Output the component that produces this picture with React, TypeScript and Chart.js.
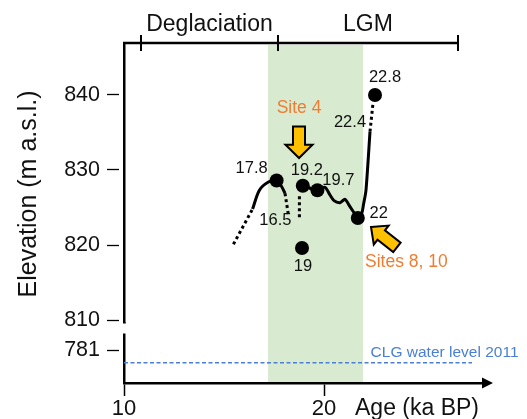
import React, { useEffect, useRef } from 'react';
import { Chart, registerables } from 'chart.js';

Chart.register(...registerables);

const FONT = "'Liberation Sans', Arial, Helvetica, sans-serif";

// ---- axes / ticks ----
const xTicks = [10, 20];
const yTicksUpper = [810, 820, 830, 840];
const yTicksLower = [781];

// ---- annotations (data units) ----
const lgmBand = [17.2, 21.95];
const phaseBounds = [10.85, 17.7, 26.7];
const phaseNames = ['Deglaciation', 'LGM'];

// ---- elevation curve segments (age ka BP, elevation m a.s.l.) ----
const earlyDottedX = [15.47, 16.43];
const earlyDottedY = [820.1, 824.8];
const earlySolidX = [16.43, 16.77, 17.22, 17.63, 17.88, 18.05];
const earlySolidY = [824.8, 827.3, 828.4, 828.6, 827.8, 826.9];
const fallDottedX = [18.05, 18.22];
const fallDottedY = [826.9, 824.0];
const vertDottedX = [18.77, 18.77];
const vertDottedY = [826.5, 823.3];
const mainSolidX = [18.94, 19.67, 20.05, 20.3, 20.5, 20.8, 21.05, 21.3, 21.52, 21.69, 21.89, 21.97, 22.1, 22.3];
const mainSolidY = [827.87, 827.33, 827.69, 826.67, 825.91, 825.64, 826.09, 825.11, 824.23, 823.56, 824.23, 825.33, 827.33, 835.11];
const topDottedX = [22.3, 22.45];
const topDottedY = [835.11, 838.93];

// ---- dated points ----
const dotX = [17.63, 18.94, 19.67, 21.69, 18.9, 22.55];
const dotY = [828.6, 827.9, 827.3, 823.6, 819.6, 840.0];
const dotLabels = ['17.8', '19.2', '19.7', '22', '19', '22.8'];
const extraLabels = ['16.5', '22.4'];

// ---- water level ----
const waterX = [10, 27.4];
const waterY = [779.3, 779.3];
const waterLabel = 'CLG water level 2011';

// ---- site arrows ----
const siteNames = ['Site 4', 'Sites 8, 10'];
const siteTipX = [18.75, 22.35];
const siteTipY = [831.6, 822.4];

const pts = (xs: number[], ys: number[]) => xs.map((x, i) => ({ x, y: ys[i] }));

function blockArrow(ctx: CanvasRenderingContext2D, tipX: number, tipY: number, dx: number, dy: number,
  len: number, shaftW: number, headW: number, headL: number) {
  const n = Math.hypot(dx, dy);
  const ux = dx / n, uy = dy / n;
  const px = -uy, py = ux;
  const bx = tipX - ux * headL, by = tipY - uy * headL;
  const tx = tipX - ux * len, ty = tipY - uy * len;
  ctx.beginPath();
  ctx.moveTo(tipX, tipY);
  ctx.lineTo(bx + px * headW / 2, by + py * headW / 2);
  ctx.lineTo(bx + px * shaftW / 2, by + py * shaftW / 2);
  ctx.lineTo(tx + px * shaftW / 2, ty + py * shaftW / 2);
  ctx.lineTo(tx - px * shaftW / 2, ty - py * shaftW / 2);
  ctx.lineTo(bx - px * shaftW / 2, by - py * shaftW / 2);
  ctx.lineTo(bx - px * headW / 2, by - py * headW / 2);
  ctx.closePath();
  ctx.fillStyle = '#FFC000';
  ctx.fill();
  ctx.lineWidth = 2;
  ctx.strokeStyle = '#000';
  ctx.lineJoin = 'miter';
  ctx.stroke();
}

const decor = {
  id: 'decor',
  beforeDraw(chart: any) {
    const { ctx, chartArea, scales } = chart;
    const x = scales.x;
    ctx.save();
    ctx.fillStyle = '#D8EACF';
    const x0 = x.getPixelForValue(lgmBand[0]);
    const x1 = x.getPixelForValue(lgmBand[1]);
    ctx.fillRect(x0, chartArea.top + 1, x1 - x0, chartArea.bottom - chartArea.top - 1);
    ctx.restore();
  },
  afterDatasetsDraw(chart: any) {
    const { ctx, scales } = chart;
    const x = scales.x, y = scales.y, yl = scales.yLow;
    ctx.save();
    // point labels
    ctx.font = `16.5px ${FONT}`;
    ctx.fillStyle = '#111';
    ctx.textAlign = 'center';
    ctx.textBaseline = 'middle';
    const offs = [[-25, -12], [4, -15], [21, -10], [21, -5], [1, 18], [10, -17.5]];
    dotLabels.forEach((t, i) => {
      ctx.fillText(t, x.getPixelForValue(dotX[i]) + offs[i][0], y.getPixelForValue(dotY[i]) + offs[i][1]);
    });
    // extra labels at segment ends
    ctx.fillText(extraLabels[0], x.getPixelForValue(fallDottedX[1]) - 13, y.getPixelForValue(fallDottedY[1]) + 5);
    ctx.fillText(extraLabels[1], x.getPixelForValue(topDottedX[0]) - 20, y.getPixelForValue(topDottedY[0]) - 9);

    // arrows
    const a1x = x.getPixelForValue(siteTipX[0]), a1y = y.getPixelForValue(siteTipY[0]);
    blockArrow(ctx, a1x, a1y, 0, 1, 31.6, 12, 27, 13.3);
    const a2x = x.getPixelForValue(siteTipX[1]), a2y = y.getPixelForValue(siteTipY[1]);
    blockArrow(ctx, a2x, a2y, -26, -20.5, 33, 12, 24, 13);
    ctx.font = `17.5px ${FONT}`;
    ctx.fillStyle = '#ED7D31';
    ctx.textAlign = 'center';
    ctx.textBaseline = 'middle';
    ctx.fillText(siteNames[0], a1x, a1y - 50);
    ctx.textAlign = 'left';
    ctx.fillText(siteNames[1], a2x - 6, a2y + 35);

    // water level label
    ctx.font = `15.5px ${FONT}`;
    ctx.fillStyle = '#4A7FD4';
    ctx.textAlign = 'left';
    ctx.textBaseline = 'alphabetic';
    ctx.fillText(waterLabel, x.getPixelForValue(22.33), yl.getPixelForValue(waterY[0]) - 6);
    ctx.restore();
  },
  afterDraw(chart: any) {
    const { ctx, chartArea, scales } = chart;
    const x = scales.x, y = scales.y;
    ctx.save();
    // axis break
    ctx.fillStyle = '#fff';
    ctx.fillRect(chartArea.left - 4, y.bottom + 0.5, 8, 10);

    // x axis arrow head
    const ay = chartArea.bottom;
    ctx.fillStyle = '#000';
    ctx.beginPath();
    ctx.moveTo(chartArea.right - 2, ay - 5.5);
    ctx.lineTo(chartArea.right + 9, ay);
    ctx.lineTo(chartArea.right - 2, ay + 5.5);
    ctx.closePath();
    ctx.fill();

    // phase bar
    const barY = chartArea.top - 1;
    ctx.strokeStyle = '#000';
    ctx.lineWidth = 2.5;
    ctx.beginPath();
    ctx.moveTo(chartArea.left - 1, barY);
    ctx.lineTo(x.getPixelForValue(phaseBounds[phaseBounds.length - 1]), barY);
    ctx.stroke();
    ctx.lineWidth = 2;
    phaseBounds.forEach((b) => {
      const px = x.getPixelForValue(b);
      ctx.beginPath();
      ctx.moveTo(px, barY - 8);
      ctx.lineTo(px, barY + 8);
      ctx.stroke();
    });
    ctx.font = `23px ${FONT}`;
    ctx.fillStyle = '#111';
    ctx.textAlign = 'center';
    ctx.textBaseline = 'alphabetic';
    phaseNames.forEach((n, i) => {
      const cx = (x.getPixelForValue(phaseBounds[i]) + x.getPixelForValue(phaseBounds[i + 1])) / 2;
      ctx.fillText(n, cx, barY - 12);
    });

    // axis titles
    ctx.font = `23px ${FONT}`;
    ctx.textAlign = 'left';
    ctx.fillText('Age (ka BP)', 355, 415);
    ctx.save();
    ctx.translate(29, 194);
    ctx.rotate(-Math.PI / 2);
    ctx.font = `25px ${FONT}`;
    ctx.textAlign = 'center';
    ctx.textBaseline = 'middle';
    ctx.fillText('Elevation (m a.s.l.)', 0, 0);
    ctx.restore();
    ctx.restore();
  },
};

export default function App() {
  const ref = useRef<HTMLCanvasElement | null>(null);
  useEffect(() => {
    document.body.style.margin = '0';
    document.body.style.overflow = 'hidden';
    const canvas = ref.current!;
    const lineDs = (xs: number[], ys: number[], dotted: boolean, tension = 0) => ({
      type: 'line' as const,
      data: pts(xs, ys),
      yAxisID: 'y',
      borderColor: '#000',
      borderWidth: 3,
      borderDash: dotted ? [3, 3] : [],
      pointRadius: 0,
      tension,
      fill: false,
    });
    const chart = new Chart(canvas, {
      type: 'line',
      data: {
        datasets: [
          {
            type: 'line',
            data: pts(waterX, waterY),
            yAxisID: 'yLow',
            borderColor: '#4A7FD4',
            borderWidth: 1.5,
            borderDash: [4, 2.5],
            pointRadius: 0,
            fill: false,
          } as any,
          lineDs(earlyDottedX, earlyDottedY, true),
          lineDs(earlySolidX, earlySolidY, false, 0.3),
          lineDs(fallDottedX, fallDottedY, true),
          lineDs(vertDottedX, vertDottedY, true),
          lineDs(mainSolidX, mainSolidY, false, 0.25),
          lineDs(topDottedX, topDottedY, true),
          {
            type: 'scatter',
            data: pts(dotX, dotY),
            yAxisID: 'y',
            pointRadius: 7,
            pointBackgroundColor: '#000',
            pointBorderWidth: 0,
            showLine: false,
          } as any,
        ],
      },
      options: {
        responsive: false,
        animation: false,
        devicePixelRatio: 1,
        layout: { padding: { top: 44, right: 43, left: 0, bottom: 0 } },
        plugins: { legend: { display: false }, tooltip: { enabled: false }, title: { display: false } },
        scales: {
          x: {
            type: 'linear',
            min: 10,
            max: 28,
            afterBuildTicks: (s: any) => { s.ticks = xTicks.map((v) => ({ value: v })); },
            afterFit: (s: any) => { s.height = 36; },
            ticks: { color: '#111', font: { family: FONT, size: 22 }, padding: 0, maxRotation: 0 },
            grid: { drawOnChartArea: false, tickLength: 13, tickColor: '#000', tickWidth: 1.5 },
            border: { color: '#000', width: 2.5 },
          },
          yLow: {
            type: 'linear',
            position: 'left',
            stack: 'elev',
            stackWeight: 60,
            min: 776.6,
            max: 784.6,
            afterBuildTicks: (s: any) => { s.ticks = yTicksLower.map((v) => ({ value: v })); },
            afterFit: (s: any) => { s.width = 124; },
            ticks: { color: '#111', font: { family: FONT, size: 21.5 }, padding: 7 },
            grid: { drawOnChartArea: false, tickLength: 17, tickColor: '#000', tickWidth: 1.3, tickBorderDash: [12, 5] },
            border: { color: '#000', width: 2.5 },
          },
          y: {
            type: 'linear',
            position: 'left',
            stack: 'elev',
            stackWeight: 279,
            min: 809.6,
            max: 846.8,
            afterBuildTicks: (s: any) => { s.ticks = yTicksUpper.map((v) => ({ value: v })); },
            afterFit: (s: any) => { s.width = 124; },
            ticks: { color: '#111', font: { family: FONT, size: 21.5 }, padding: 7 },
            grid: { drawOnChartArea: false, tickLength: 17, tickColor: '#000', tickWidth: 1.3, tickBorderDash: [12, 5] },
            border: { color: '#000', width: 2.5 },
          },
        },
      } as any,
      plugins: [decor],
    });
    return () => chart.destroy();
  }, []);
  return <canvas ref={ref} width={527} height={419} style={{ display: 'block' }} />;
}
